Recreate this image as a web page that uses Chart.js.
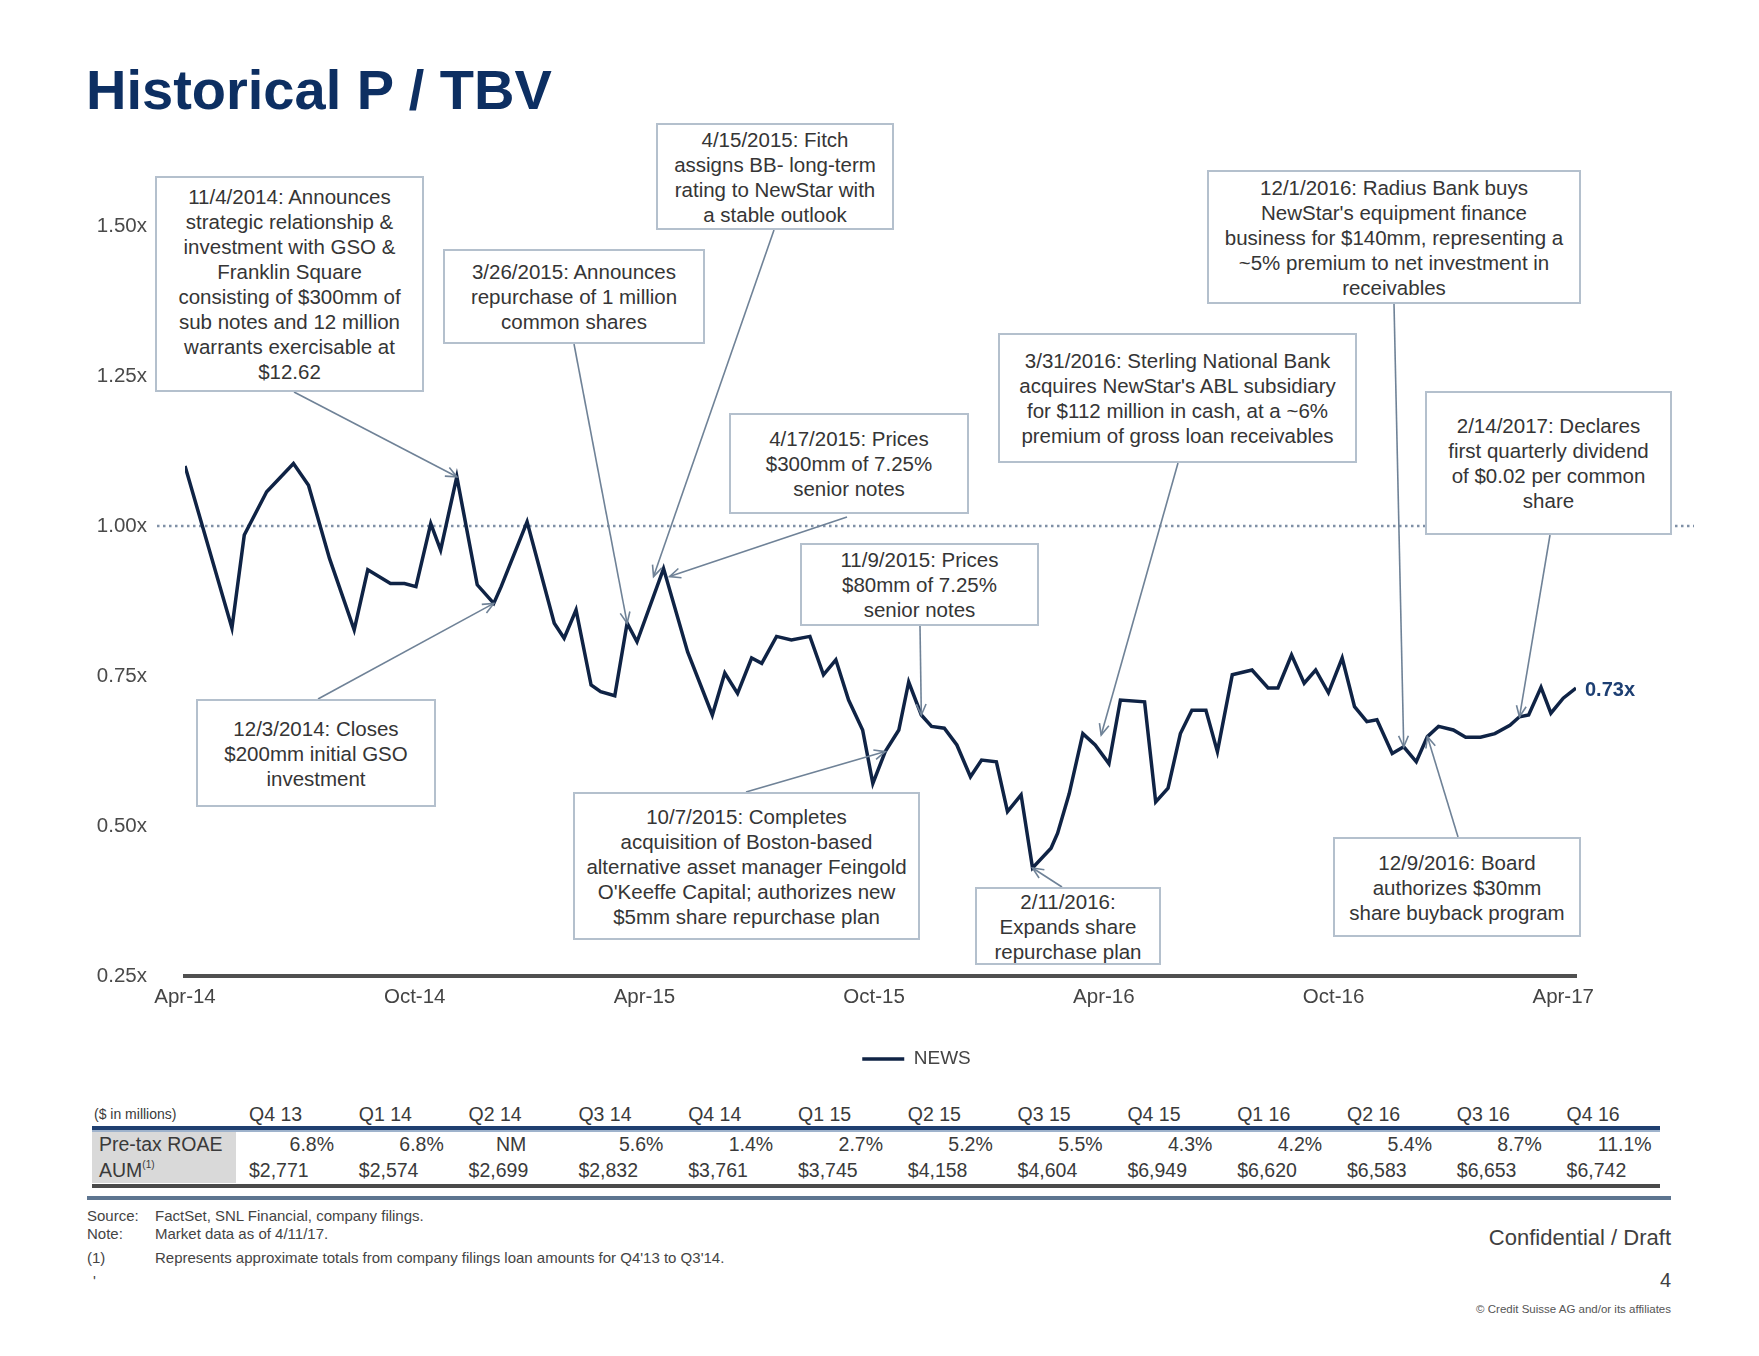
<!DOCTYPE html>
<html>
<head>
<meta charset="utf-8">
<script src="https://cdn.jsdelivr.net/npm/chart.js@4.4.1/dist/chart.umd.min.js"></script>
<style>
  html, body { margin: 0; padding: 0; background: #fff; }
  body { width: 1759px; height: 1356px; position: relative; overflow: hidden;
         font-family: "Liberation Sans", Arial, Helvetica, sans-serif; color: #3a3a3a; }
  #chart { position: absolute; left: 0; top: 0; z-index: 1; }
  .title { position: absolute; left: 86px; top: 62px; font-size: 56px; line-height: 56px;
           font-weight: bold; color: #0d2f62; z-index: 3; white-space: nowrap; }
  .note { position: absolute; z-index: 3; background: #fff; border: 2px solid #b4c0cd;
          box-sizing: border-box; display: flex; align-items: center; justify-content: center;
          text-align: center; font-size: 20.5px; line-height: 25px; color: #353535; white-space: nowrap; }
  .cell { position: absolute; z-index: 3; font-size: 19.5px; line-height: 24px; color: #3a3a3a; white-space: nowrap; }
  .rule { position: absolute; z-index: 2; }
  .foot { position: absolute; z-index: 3; font-size: 15px; line-height: 18px; color: #444; white-space: nowrap; }
</style>
</head>
<body>
<div class="title">Historical P / TBV</div>
<canvas id="chart" width="1759" height="1100" style="width:1759px;height:1100px"></canvas>
<div id="overlay"></div>
<script>
// ---------------- data ----------------
const dates = [
 '2014-04-01','2014-05-08','2014-05-18','2014-06-05','2014-06-26','2014-07-08','2014-07-25','2014-08-14','2014-08-25','2014-09-12',
 '2014-09-23','2014-10-02','2014-10-14','2014-10-22','2014-11-04','2014-11-20','2014-12-03','2014-12-09','2014-12-30','2015-01-21',
 '2015-01-29','2015-02-07','2015-02-18','2015-02-25','2015-03-08','2015-03-18','2015-03-26','2015-04-16','2015-05-05','2015-05-25',
 '2015-06-04','2015-06-14','2015-06-25','2015-07-03','2015-07-15','2015-07-27','2015-08-11','2015-08-22','2015-09-01','2015-09-11',
 '2015-09-22','2015-09-30','2015-10-10','2015-10-21','2015-10-29','2015-11-08','2015-11-16','2015-11-26','2015-12-06','2015-12-17',
 '2015-12-26','2016-01-07','2016-01-16','2016-01-27','2016-02-05','2016-02-19','2016-02-24','2016-03-04','2016-03-15','2016-03-25',
 '2016-04-05','2016-04-14','2016-05-03','2016-05-12','2016-05-22','2016-06-01','2016-06-10','2016-06-21','2016-06-30','2016-07-12',
 '2016-07-28','2016-08-10','2016-08-18','2016-08-29','2016-09-08','2016-09-17','2016-09-27','2016-10-08','2016-10-18','2016-10-28',
 '2016-11-05','2016-11-17','2016-11-26','2016-12-06','2016-12-15','2016-12-24','2017-01-05','2017-01-15','2017-01-27','2017-02-07',
 '2017-02-18','2017-02-25','2017-03-04','2017-03-14','2017-03-22','2017-04-01','2017-04-11'
];
const ptbv = [
 1.10,0.83,0.985,1.057,1.104,1.068,0.946,0.827,0.927,0.904,
 0.904,0.899,1.004,0.96,1.082,0.902,0.871,0.899,1.007,0.838,
 0.813,0.86,0.735,0.724,0.717,0.838,0.807,0.929,0.79,0.685,
 0.755,0.721,0.78,0.771,0.816,0.81,0.816,0.752,0.777,0.71,
 0.66,0.571,0.624,0.66,0.74,0.685,0.666,0.663,0.635,0.582,
 0.61,0.607,0.524,0.552,0.43,0.463,0.488,0.554,0.654,0.635,
 0.604,0.71,0.707,0.54,0.563,0.654,0.693,0.693,0.624,0.752,
 0.76,0.73,0.73,0.785,0.738,0.76,0.722,0.78,0.699,0.674,
 0.677,0.621,0.632,0.607,0.649,0.666,0.66,0.648,0.648,0.654,
 0.668,0.682,0.685,0.731,0.688,0.713,0.73
];
const seriesName = 'NEWS';
const tickLabels = ['Apr-14','Oct-14','Apr-15','Oct-15','Apr-16','Oct-16','Apr-17'];
const yTicks = [0.25, 0.50, 0.75, 1.00, 1.25, 1.50];
const refLevel = 1.00;
const lastLabel = '0.73x';

const quarters = ['Q4 13','Q1 14','Q2 14','Q3 14','Q4 14','Q1 15','Q2 15','Q3 15','Q4 15','Q1 16','Q2 16','Q3 16','Q4 16'];
const roae = ['6.8%','6.8%','NM','5.6%','1.4%','2.7%','5.2%','5.5%','4.3%','4.2%','5.4%','8.7%','11.1%'];
const aum = ['$2,771','$2,574','$2,699','$2,832','$3,761','$3,745','$4,158','$4,604','$6,949','$6,620','$6,583','$6,653','$6,742'];

// ---------------- annotations (layout) ----------------
const notes = [
 {text:['11/4/2014: Announces','strategic relationship &','investment with GSO &','Franklin Square','consisting of $300mm of','sub notes and 12 million','warrants exercisable at','$12.62'], box:[155,176,269,216], from:[294,392], to:'2014-11-04'},
 {text:['3/26/2015: Announces','repurchase of 1 million','common shares'], box:[443,249,262,95], from:[574,344], to:'2015-03-18'},
 {text:['4/15/2015: Fitch','assigns BB- long-term','rating to NewStar with','a stable outlook'], box:[656,123,238,107], from:[774,230], to:'2015-04-16', off:[-10,8]},
 {text:['4/17/2015: Prices','$300mm of 7.25%','senior notes'], box:[729,413,240,101], from:[847,517], to:'2015-04-16', off:[6,8]},
 {text:['11/9/2015: Prices','$80mm of 7.25%','senior notes'], box:[800,543,239,83], from:[920,626], to:'2015-11-08'},
 {text:['10/7/2015: Completes','acquisition of Boston-based','alternative asset manager Feingold',"O'Keeffe Capital; authorizes new",'$5mm share repurchase plan'], box:[573,792,347,148], from:[746,792], to:'2015-10-10'},
 {text:['12/3/2014: Closes','$200mm initial GSO','investment'], box:[196,699,240,108], from:[318,699], to:'2014-12-03'},
 {text:['3/31/2016: Sterling National Bank',"acquires NewStar's ABL subsidiary",'for $112 million in cash, at a ~6%','premium of gross loan receivables'], box:[998,333,359,130], from:[1178,463], to:'2016-03-25', off:[6,-10]},
 {text:['12/1/2016: Radius Bank buys',"NewStar's equipment finance",'business for $140mm, representing a','~5% premium to net investment in','receivables'], box:[1207,170,374,134], from:[1394,304], to:'2016-11-26'},
 {text:['2/14/2017: Declares','first quarterly dividend','of $0.02 per common','share'], box:[1425,391,247,144], from:[1550,535], to:'2017-02-25'},
 {text:['2/11/2016:','Expands share','repurchase plan'], box:[975,887,186,78], from:[1062,887], to:'2016-02-05'},
 {text:['12/9/2016: Board','authorizes $30mm','share buyback program'], box:[1333,837,248,100], from:[1458,837], to:'2016-12-15'}
];

// ---------------- helpers ----------------
function monthOffset(s) {
  const [y, m, d] = s.split('-').map(Number);
  const dim = new Date(y, m, 0).getDate();
  return (y - 2014) * 12 + (m - 4) + (d - 1) / dim;
}
const xs = dates.map(monthOffset);
const points = xs.map((x, i) => ({ x: x, y: ptbv[i] }));
const FONT = '"Liberation Sans", Arial, Helvetica, sans-serif';

// ---------------- overlay plugin ----------------
const overlayPlugin = {
  id: 'overlayPlugin',
  afterLayout(chart) {
    // nudge the library legend to sit where the original places it
    if (chart.legend) { chart.legend.left += 36; chart.legend.right += 36; }
  },
  beforeDatasetsDraw(chart) {
    const ctx = chart.ctx;
    const y = chart.scales.y.getPixelForValue(refLevel);
    ctx.save();
    ctx.strokeStyle = '#7f90a6';
    ctx.lineWidth = 2.5;
    ctx.setLineDash([2.5, 3.5]);
    ctx.beginPath();
    ctx.moveTo(157, y);
    ctx.lineTo(1694, y);
    ctx.stroke();
    ctx.restore();
  },
  afterDatasetsDraw(chart) {
    const ctx = chart.ctx;
    const meta = chart.getDatasetMeta(0);
    ctx.save();
    ctx.strokeStyle = '#6f8297';
    ctx.lineWidth = 1.6;
    notes.forEach(n => {
      const p = meta.data[dates.indexOf(n.to)];
      const off = n.off || [0, 0];
      const tx = p.x + off[0], ty = p.y + off[1];
      const fx = n.from[0], fy = n.from[1];
      ctx.beginPath(); ctx.moveTo(fx, fy); ctx.lineTo(tx, ty); ctx.stroke();
      const a = Math.atan2(ty - fy, tx - fx), L = 12, w = 0.42;
      ctx.beginPath();
      ctx.moveTo(tx - L * Math.cos(a - w), ty - L * Math.sin(a - w));
      ctx.lineTo(tx, ty);
      ctx.lineTo(tx - L * Math.cos(a + w), ty - L * Math.sin(a + w));
      ctx.stroke();
    });
    const last = meta.data[meta.data.length - 1];
    ctx.fillStyle = '#1d3f73';
    ctx.font = 'bold 20px ' + FONT;
    ctx.textBaseline = 'middle';
    ctx.textAlign = 'left';
    ctx.fillText(lastLabel, last.x + 9, last.y + 2);
    ctx.restore();
  }
};

Chart.defaults.font.family = FONT;

new Chart(document.getElementById('chart'), {
  type: 'line',
  data: {
    datasets: [{
      label: seriesName,
      data: points,
      borderColor: '#0f2345',
      backgroundColor: '#0f2345',
      borderWidth: 3.5,
      pointRadius: 0,
      pointStyle: 'line',
      tension: 0,
      borderJoinStyle: 'miter'
    }]
  },
  options: {
    responsive: false,
    animation: false,
    devicePixelRatio: 1,
    layout: { padding: { left: 0, right: 183, top: 226, bottom: 21.5 } },
    plugins: {
      tooltip: { enabled: false },
      legend: {
        position: 'bottom',
        fullSize: false,
        labels: {
          usePointStyle: true,
          pointStyle: 'line',
          pointStyleWidth: 42,
          color: '#444',
          padding: 10,
          font: { size: 19 }
        }
      }
    },
    scales: {
      x: {
        type: 'linear',
        min: xs[0],
        max: xs[xs.length - 1],
        afterFit(s) { s.height = 63.5; },
        afterBuildTicks(s) { s.ticks = tickLabels.map((t, i) => ({ value: i * 6 })); },
        grid: { display: false, drawTicks: false },
        border: { display: true, color: '#505050', width: 4 },
        ticks: {
          padding: 9,
          color: '#444',
          font: { size: 20.5 },
          maxRotation: 0,
          autoSkip: false,
          callback: (v) => tickLabels[Math.round(v / 6)]
        }
      },
      y: {
        min: yTicks[0],
        max: yTicks[yTicks.length - 1],
        afterFit(s) { s.width = 185; },
        afterBuildTicks(s) { s.ticks = yTicks.map(v => ({ value: v })); },
        grid: { display: false, drawTicks: false },
        border: { display: false },
        ticks: {
          padding: 38,
          color: '#4a4a4a',
          font: { size: 20.5 },
          callback: (v) => Number(v).toFixed(2) + 'x'
        }
      }
    }
  },
  plugins: [overlayPlugin]
});

// ---------------- HTML overlay: notes, table, footer ----------------
const ov = document.getElementById('overlay');
function add(cls, style, html) {
  const d = document.createElement('div');
  d.className = cls;
  Object.assign(d.style, style);
  d.innerHTML = html;
  ov.appendChild(d);
  return d;
}
notes.forEach(n => {
  add('note', { left: n.box[0] + 'px', top: n.box[1] + 'px', width: n.box[2] + 'px', height: n.box[3] + 'px' },
      '<div>' + n.text.join('<br>') + '</div>');
});

// table
const colLeft = i => 249 + 109.8 * i;
add('rule', { left: '92px', top: '1131px', width: '144px', height: '52px', background: '#d9d9d9' }, '');
add('rule', { left: '92px', top: '1126px', width: '1568px', height: '4px', background: '#1f3f70' }, '');
add('rule', { left: '92px', top: '1130px', width: '1568px', height: '2px', background: '#9fb3cc' }, '');
add('rule', { left: '92px', top: '1184px', width: '1568px', height: '4px', background: '#4a4a4a' }, '');
add('rule', { left: '87px', top: '1196px', width: '1584px', height: '4px', background: '#5d7590' }, '');
add('cell', { left: '94px', top: '1105px', fontSize: '14px', lineHeight: '18px' }, '($ in millions)');
add('cell', { left: '99px', top: '1132px' }, 'Pre-tax ROAE');
add('cell', { left: '99px', top: '1158px' }, 'AUM<sup style="font-size:10px;vertical-align:9px;line-height:0">(1)</sup>');
quarters.forEach((q, i) => {
  add('cell', { left: colLeft(i) + 'px', top: '1102px' }, q);
  const isNum = /\d/.test(roae[i]);
  add('cell', { left: colLeft(i) + 'px', top: '1132px', width: '85px', textAlign: isNum ? 'right' : 'center' }, roae[i]);
  add('cell', { left: colLeft(i) + 'px', top: '1158px' }, aum[i]);
});

// footer
add('foot', { left: '87px', top: '1207px' }, 'Source:');
add('foot', { left: '155px', top: '1207px' }, 'FactSet, SNL Financial, company filings.');
add('foot', { left: '87px', top: '1225px' }, 'Note:');
add('foot', { left: '155px', top: '1225px' }, 'Market data as of 4/11/17.');
add('foot', { left: '87px', top: '1249px' }, '(1)');
add('foot', { left: '155px', top: '1249px' }, "Represents approximate totals from company filings loan amounts for Q4'13 to Q3'14.");
add('foot', { left: '93px', top: '1272px' }, "'");
add('foot', { right: '88px', top: '1224px', fontSize: '22px', lineHeight: '28px', color: '#404040' }, 'Confidential / Draft');
add('foot', { right: '88px', top: '1268px', fontSize: '20px', lineHeight: '24px', color: '#404040' }, '4');
add('foot', { right: '88px', top: '1302px', fontSize: '11.5px', lineHeight: '14px', color: '#555' }, '© Credit Suisse AG and/or its affiliates');
</script>
</body>
</html>
